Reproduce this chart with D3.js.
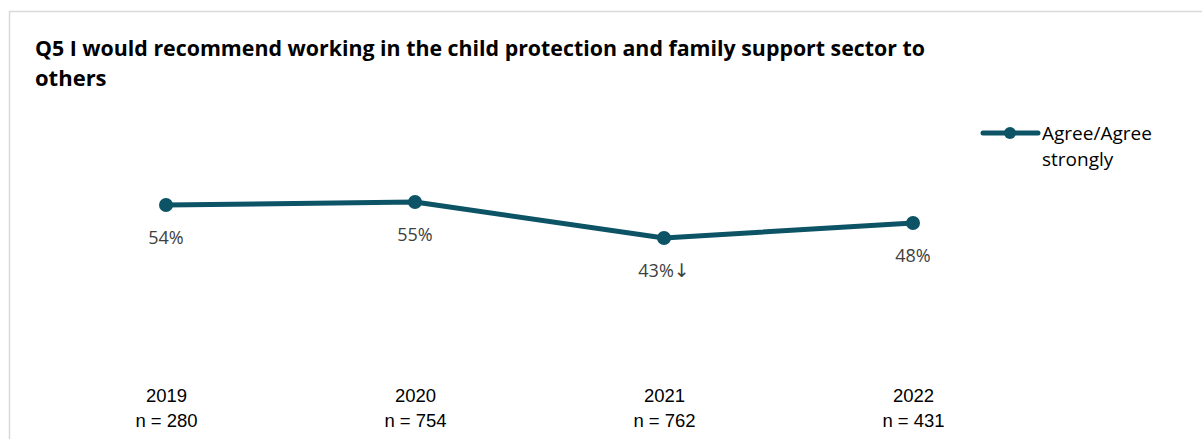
<!DOCTYPE html>
<html><head><meta charset="utf-8">
<script src="https://cdn.jsdelivr.net/npm/d3@7"></script>
<style>
html,body{margin:0;padding:0;background:#fff;}
svg{display:block;font-family:"Open Sans",sans-serif;}
</style></head>
<body>
<svg id="chart" width="1202" height="439"></svg>
<script>
const titleLines = ["Q5 I would recommend working in the child protection and family support sector to", "others"];
const years = ["2019", "2020", "2021", "2022"];
const sampleSizes = ["n = 280", "n = 754", "n = 762", "n = 431"];
const values = [54, 55, 43, 48];
const valueLabels = ["54%", "55%", "43%", "48%"];
const valueMarks = ["", "", "\u2193", ""];
const seriesName = ["Agree/Agree", "strongly"];

const svg = d3.select("#chart");
const color = "#0b5365";

svg.append("rect").attr("x", 9.5).attr("y", 11.5).attr("width", 1300).attr("height", 500)
  .attr("fill", "#fff").attr("stroke", "#d9d9d9").attr("stroke-width", 1.5);

svg.append("g").selectAll("text").data(titleLines).join("text")
  .attr("x", 35).attr("y", (d, i) => 56 + i * 30)
  .attr("font-size", 22).attr("font-weight", "bold").attr("fill", "#000")
  .each(function(d, i){ if (i === 0) d3.select(this).attr("textLength", 890).attr("lengthAdjust", "spacingAndGlyphs"); })
  .text(d => d);

const x = d3.scalePoint().domain(years).range([166, 913]);
const y = d3.scaleLinear().domain([0, 100]).range([367, 67]);

const data = years.map((yr, i) => ({yr, v: values[i], lab: valueLabels[i], mark: valueMarks[i], n: sampleSizes[i]}));

svg.append("path").datum(data)
  .attr("fill", "none").attr("stroke", color).attr("stroke-width", 5).attr("stroke-linejoin", "round")
  .attr("d", d3.line().x(d => x(d.yr)).y(d => y(d.v)));

svg.append("g").selectAll("circle").data(data).join("circle")
  .attr("cx", d => x(d.yr)).attr("cy", d => y(d.v)).attr("r", 7).attr("fill", color);

const lbl = svg.append("g").selectAll("text").data(data).join("text")
  .attr("x", d => x(d.yr)).attr("y", d => y(d.v) + 39)
  .attr("text-anchor", "middle").attr("font-size", 18).attr("fill", "#404040");
lbl.append("tspan").text(d => d.lab);
lbl.filter(d => d.mark).append("tspan").attr("font-family", "DejaVu Sans").attr("font-size", 19).text(d => d.mark);

const ax = svg.append("g").attr("transform", "translate(0,367)");
ax.call(d3.axisBottom(x).tickSize(0).tickPadding(0).tickFormat(() => ""));
ax.select(".domain").remove();
ax.selectAll(".tick").each(function(d, i){
  const g = d3.select(this);
  g.select("text").remove();
  g.append("text").attr("y", 35).attr("text-anchor", "middle").attr("font-size", 18.5).attr("fill", "#000").text(d);
  g.append("text").attr("y", 60).attr("text-anchor", "middle").attr("font-size", 18.5).attr("fill", "#000").text(sampleSizes[i]);
});

const lg = svg.append("g");
lg.append("line").attr("x1", 983).attr("x2", 1038).attr("y1", 133).attr("y2", 133)
  .attr("stroke", color).attr("stroke-width", 5).attr("stroke-linecap", "round");
lg.append("circle").attr("cx", 1010).attr("cy", 133).attr("r", 6).attr("fill", color);
lg.selectAll("text").data(seriesName).join("text")
  .attr("x", 1042).attr("y", (d, i) => 140 + i * 26)
  .attr("font-size", 19).attr("fill", "#000").text(d => d);
</script>
</body></html>
